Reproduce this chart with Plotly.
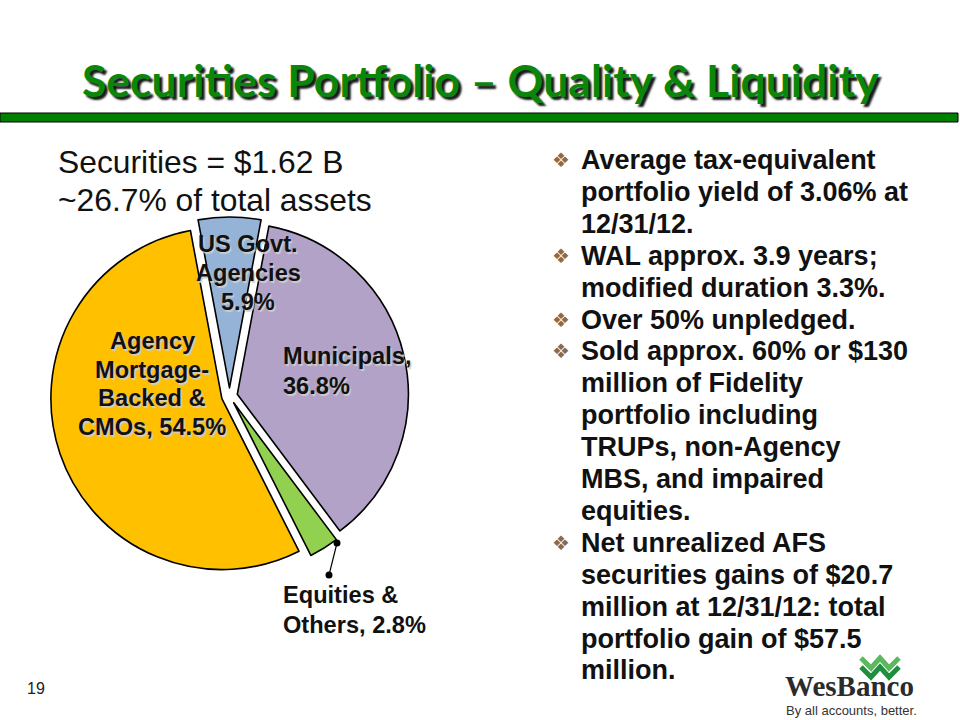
import plotly.graph_objects as go

W, H = 960, 720

# ---------------- data ----------------
categories = ["US Govt. Agencies", "Municipals", "Equities & Others",
              "Agency Mortgage-Backed & CMOs"]
shares = [5.9, 36.8, 2.8, 54.5]
slice_colors = ["#95B3D7", "#B3A2C7", "#92D050", "#FFC000"]
label_lines = [
    ["US Govt.", "Agencies", "{v}%"],
    ["Municipals,", "{v}%"],
    ["Equities &", "Others, {v}%"],
    ["Agency", "Mortgage-", "Backed &", "CMOs, {v}%"],
]
headline = ["Securities = $1.62 B", "~26.7% of total assets"]
bullets = [
    ["Average tax-equivalent", "portfolio yield of 3.06% at", "12/31/12."],
    ["WAL approx. 3.9 years;", "modified duration 3.3%."],
    ["Over 50% unpledged."],
    ["Sold approx. 60% or $130", "million of Fidelity", "portfolio including",
     "TRUPs, non-Agency", "MBS, and impaired", "equities."],
    ["Net unrealized AFS", "securities gains of $20.7", "million at 12/31/12: total",
     "portfolio gain of $57.5", "million."],
]
title_text = "Securities Portfolio \u2013 Quality & Liquidity"
page_number = "19"
logo_name = "WesBanco"
logo_tagline = "By all accounts, better."

# ---------------- layout helpers ----------------
def px(x):
    return x / W


def py(y):
    return 1 - y / H


SANS = "Liberation Sans, Arial, sans-serif"

# pie geometry (pixels)
pie_cx, pie_cy, pie_r, pull = 229.5, 396.0, 171.0, 0.047
half = pie_r * (1 + pull)

fig = go.Figure()
fig.add_trace(go.Pie(
    labels=categories, values=shares, sort=False, direction="clockwise",
    rotation=-10.6, pull=[pull] * len(shares),
    marker=dict(colors=slice_colors, line=dict(color="#000000", width=1.6)),
    textinfo="none", hoverinfo="skip", showlegend=False,
    domain=dict(x=[px(pie_cx - half), px(pie_cx + half)],
                y=[py(pie_cy + half), py(pie_cy - half)]),
))

annotations = []


def add_text(text, x, y, size, color="#111111", family=SANS, weight="normal",
             xanchor="left", shadow="none"):
    annotations.append(dict(
        text=text, x=px(x), y=py(y), xref="paper", yref="paper",
        xanchor=xanchor, yanchor="middle", showarrow=False,
        font=dict(family=family, size=size, color=color, weight=weight,
                  shadow=shadow),
    ))


# title
add_text(title_text, 480, 79, 44.5, color="#0A870A",
         family="Lato, Liberation Sans, sans-serif", weight="bold",
         xanchor="center", shadow="3px 3px 2px rgba(0,0,0,0.9)")

# headline (left)
for i, line in enumerate(headline):
    add_text(line, 56, 162 + i * 38, 31.8)

# pie labels
label_pos = [(248, 244, 29, "center"), (281, 356, 30, "left"),
             (281, 595, 30, "left"), (152, 341, 28.7, "center")]
label_shadow = "1.5px 1.5px 1px rgba(205,205,205,0.95)"
for lines, v, (lx, ly, step, anchor) in zip(label_lines, shares, label_pos):
    for j, ln in enumerate(lines):
        sh = "none" if lines is label_lines[2] else label_shadow
        add_text(ln.format(v=v), lx, ly + j * step, 23.6, weight="bold",
                 xanchor=anchor, shadow=sh)

# bullets (right)
line_y0, line_step = 160, 31.9
k = 0
for b in bullets:
    add_text("\u2756", 561, line_y0 + k * line_step, 20, color="#8C6A48",
             family="DejaVu Sans, sans-serif", xanchor="center")
    for ln in b:
        add_text(ln, 579, line_y0 + k * line_step, 27, weight="bold")
        k += 1

# page number
add_text(page_number, 36, 688, 16, color="#222222", xanchor="center")

# logo
add_text(logo_name, 849, 686, 29, color="#2B2B2B",
         family="Liberation Serif, Times New Roman, serif", weight="bold",
         xanchor="center")
add_text(logo_tagline, 851, 710, 13, color="#333333", xanchor="center")

shapes = []
# green rule under the title
shapes.append(dict(type="rect", xref="paper", yref="paper",
                   x0=px(0), x1=px(958), y0=py(122), y1=py(113),
                   fillcolor="#008000", line=dict(color="#000000", width=1)))


def path(points):
    return "M " + " L ".join(f"{px(a):.5f},{py(b):.5f}" for a, b in points)


# leader line for Equities & Others
lead = [(337, 543), (329, 575)]
shapes.append(dict(type="path", xref="paper", yref="paper", path=path(lead),
                   line=dict(color="#000000", width=1.2)))
for (dx, dy) in lead:
    shapes.append(dict(type="circle", xref="paper", yref="paper",
                       x0=px(dx - 3.5), x1=px(dx + 3.5), y0=py(dy + 3.5), y1=py(dy - 3.5),
                       fillcolor="#000000", line=dict(color="#000000", width=0)))

# logo chevrons
for off, col in [(0, "#5DB85D"), (9, "#1F8F3F")]:
    pts = [(861, 658 + off), (871, 668 + off), (880, 658 + off),
           (889, 668 + off), (899, 658 + off)]
    shapes.append(dict(type="path", xref="paper", yref="paper", path=path(pts),
                       line=dict(color=col, width=5)))

fig.update_layout(
    width=W, height=H, margin=dict(l=0, r=0, t=0, b=0),
    paper_bgcolor="#FFFFFF", plot_bgcolor="#FFFFFF",
    showlegend=False, annotations=annotations, shapes=shapes,
)

fig.write_html(
    "out.html",
    config={"displayModeBar": False},
    post_script="document.body.style.margin='0';document.body.style.overflow='hidden';",
)
